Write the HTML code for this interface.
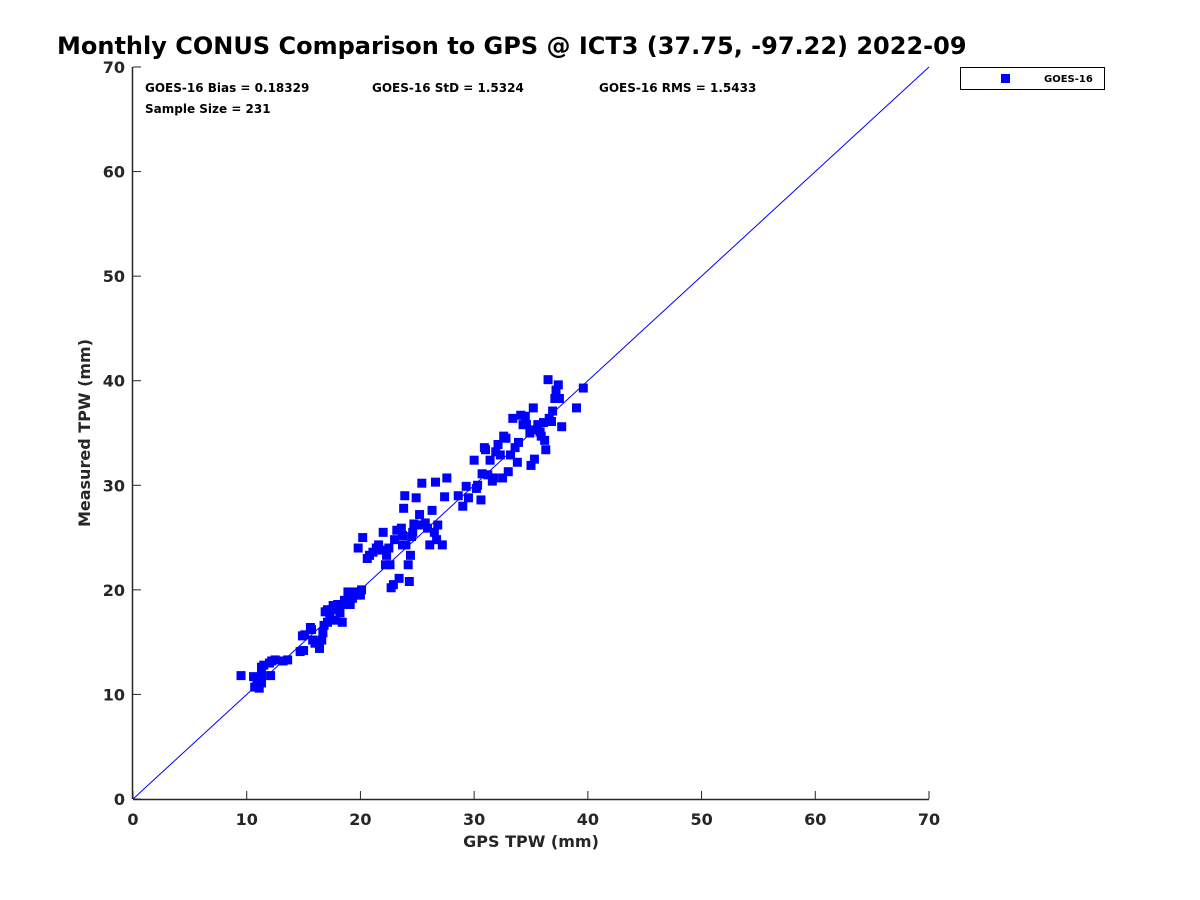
<!DOCTYPE html>
<html><head><meta charset="utf-8"><style>
body{margin:0;background:#fff;}
svg{display:block;font-family:"DejaVu Sans","Liberation Sans",sans-serif;}
</style></head><body>
<svg id="chart" width="1200" height="900" viewBox="0 0 1200 900">
<rect width="1200" height="900" fill="#fff"/>
<text x="57" y="54" font-size="24" font-weight="bold" fill="#000">Monthly CONUS Comparison to GPS @ ICT3 (37.75, -97.22) 2022-09</text>
<g id="plot"></g>
<text x="145" y="92" font-size="12" font-weight="bold">GOES-16 Bias = 0.18329</text>
<text x="372" y="92" font-size="12" font-weight="bold">GOES-16 StD = 1.5324</text>
<text x="599" y="92" font-size="12" font-weight="bold">GOES-16 RMS = 1.5433</text>
<text x="145" y="113" font-size="12" font-weight="bold">Sample Size = 231</text>
<g>
<rect x="960.5" y="67.5" width="144" height="22" fill="#fff" stroke="#000" stroke-width="1"/>
<rect x="1001" y="74" width="9" height="9" fill="#0000ff"/>
<text x="1044" y="82" font-size="10" font-weight="bold">GOES-16</text>
</g>
<text x="531" y="847" font-size="16" font-weight="bold" fill="#262626" text-anchor="middle">GPS TPW (mm)</text>
<text transform="translate(90,433) rotate(-90)" font-size="16" font-weight="bold" fill="#262626" text-anchor="middle">Measured TPW (mm)</text>
</svg>
<script>
const xTicks=[0,10,20,30,40,50,60,70];
const yTicks=[0,10,20,30,40,50,60,70];
const gpsX=[9.5,10.6,10.7,10.9,11.1,11.3,11.3,11.5,12.0,12.2,12.5,13.2,13.6,12.1,11.1,11.3,
14.7,15.0,14.9,15.1,15.7,15.6,15.8,16.0,16.3,16.4,16.6,16.7,16.8,16.9,17.1,17.1,17.3,17.5,17.6,17.8,17.9,18.0,18.2,18.4,18.5,18.6,18.9,19.1,19.3,19.5,19.8,20.0,20.1,
19.8,20.2,20.6,20.8,21.1,21.4,21.6,21.9,22.0,22.2,22.3,22.5,22.6,22.7,22.9,23.0,23.2,23.4,23.6,23.7,23.7,23.8,23.9,24.0,24.2,24.3,24.4,24.5,24.6,24.7,24.9,25.1,25.2,25.4,25.7,25.9,26.1,26.3,26.5,26.6,26.7,26.8,27.2,27.4,27.6,
28.6,29.0,29.3,29.5,30.0,30.2,30.3,30.6,30.7,30.9,31.0,31.2,31.4,31.6,31.7,31.9,32.1,32.3,32.5,32.6,32.8,33.0,33.2,33.4,33.6,33.8,33.9,34.1,34.3,34.5,34.6,34.9,35.0,35.2,35.3,35.4,35.6,35.8,35.9,36.1,36.2,36.3,36.5,36.6,36.8,36.9,37.1,37.2,37.4,37.5,37.7,39.0,39.6];
const measY=[11.8,11.7,10.7,11.1,11.4,11.8,12.6,12.8,13.0,13.2,13.3,13.2,13.3,11.8,10.6,11.1,
14.1,14.2,15.6,15.7,16.2,16.4,15.2,14.9,15.0,14.4,15.2,15.9,16.6,17.9,18.1,16.9,17.6,18.1,18.5,17.1,18.3,18.6,17.8,16.9,18.6,19.0,19.8,18.6,19.2,19.8,19.5,19.5,20.0,
24.0,25.0,23.0,23.3,23.6,24.0,24.3,23.8,25.5,22.4,23.3,24.0,22.4,20.2,20.5,24.8,25.7,21.1,25.9,24.3,25.2,27.8,29.0,24.3,22.4,20.8,23.3,25.1,25.5,26.3,28.8,26.2,27.2,30.2,26.4,25.9,24.3,27.6,25.5,30.3,24.8,26.2,24.3,28.9,30.7,
29.0,28.0,29.9,28.8,32.4,29.7,30.0,28.6,31.1,33.6,33.4,31.0,32.4,30.4,30.7,33.2,33.9,32.9,30.7,34.7,34.5,31.3,32.9,36.4,33.6,32.2,34.1,36.7,35.8,36.6,35.8,35.0,31.9,37.4,32.5,35.3,35.8,35.1,34.7,36.0,34.3,33.4,40.1,36.4,36.1,37.1,38.3,39.1,39.6,38.3,35.6,37.4,39.3];
const L=133,R=929,T=67,B=799,MAX=70;
const sx=v=>L+(R-L)*v/MAX, sy=v=>B-(B-T)*v/MAX;
const NS="http://www.w3.org/2000/svg";
const g=document.getElementById('plot');
function mk(tag,attrs){const e=document.createElementNS(NS,tag);for(const k in attrs)e.setAttribute(k,attrs[k]);g.appendChild(e);return e;}
const ref=mk('line',{x1:sx(0),y1:sy(0),x2:sx(70),y2:sy(70),stroke:'#0000ff','stroke-width':1});


for(let i=0;i<gpsX.length;i++){
 const p=mk('rect',{x:sx(gpsX[i])-4.5,y:sy(measY[i])-4.5,width:9,height:9,fill:'#0000ff'});
 
 
}
const xa=mk('line',{x1:L,y1:B+0.5,x2:R,y2:B+0.5,stroke:'#262626','stroke-width':1.5});


const ya=mk('line',{x1:L-0.5,y1:T,x2:L-0.5,y2:B,stroke:'#262626','stroke-width':1.5});


xTicks.forEach(v=>{
 const t=mk('line',{x1:sx(v),y1:B,x2:sx(v),y2:B-8,stroke:'#262626','stroke-width':1});
 
 
 const l=mk('text',{x:sx(v),y:B+26,'font-size':16,'font-weight':'bold',fill:'#262626','text-anchor':'middle'});
 l.textContent=v;
 
 
});
yTicks.forEach(v=>{
 const t=mk('line',{x1:L,y1:sy(v),x2:L+8,y2:sy(v),stroke:'#262626','stroke-width':1});
 
 
 const l=mk('text',{x:L-8,y:sy(v)+6,'font-size':16,'font-weight':'bold',fill:'#262626','text-anchor':'end'});
 l.textContent=v;
 
 
});
</script>
</body></html>
